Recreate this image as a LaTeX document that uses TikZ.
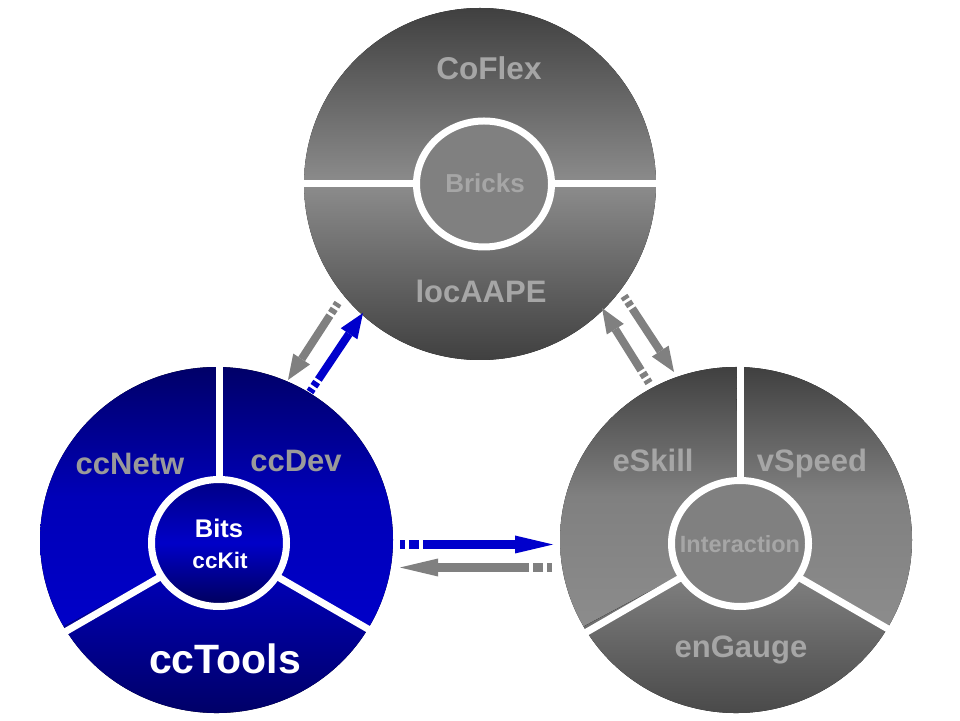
\documentclass[tikz,border=0pt]{standalone}
\usepackage{fontspec}
\setmainfont{Liberation Sans}
\usepackage{tikz}
\usetikzlibrary{arrows.meta, positioning, calc}

\definecolor{grayDark}{HTML}{404040}
\definecolor{grayLight}{HTML}{8C8C8C}
\definecolor{grayCore}{HTML}{808080}
\definecolor{grayText}{HTML}{A6A6A6}
\definecolor{blueDark}{HTML}{000068}
\definecolor{blueLight}{HTML}{0000C8}
\definecolor{blueDeep}{HTML}{00005A}
\definecolor{blueText}{HTML}{9A9A9A}
\definecolor{arrowBlue}{HTML}{0000CC}
\definecolor{arrowGray}{HTML}{808080}

\tikzset{
  seglabel/.style={font=\bfseries\fontsize{31}{31}\selectfont, text=grayText, anchor=base, inner sep=0pt},
  corelabel/.style={font=\bfseries\fontsize{24}{24}\selectfont, text=grayText, anchor=base, inner sep=0pt},
  divider/.style={white, line width=7pt},
  flow/.style={line width=9pt, dash pattern=on 5pt off 4pt on 10pt off 4pt on 400pt,
    -{Triangle[length=38pt, width=18pt, line width=0pt]}},
  flowdiag/.style={line width=8pt, dash pattern=on 4pt off 3pt on 5pt off 3pt on 400pt,
    -{Triangle[length=25pt, width=20pt, line width=0pt]}},
}

\begin{document}
\begin{tikzpicture}[x=1pt, y=1pt]

\useasboundingbox (0,0) rectangle (960,720);

% Centres
\coordinate (top) at (480,536);
\coordinate (left) at (216.5,180);
\coordinate (right) at (736,180);

% Top circle
\begin{scope}[shift={(top)}]
  \fill[top color=grayDark, bottom color=grayLight] (180:176) arc[start angle=180, end angle=0, radius=176] -- cycle;
  \fill[top color=grayLight, bottom color=grayDark] (180:176) arc[start angle=180, end angle=360, radius=176] -- cycle;
  \draw[divider] (-178,0) -- (178,0);
  \draw[divider, fill=grayCore] (4,0) ellipse[x radius=67.5, y radius=63];
\end{scope}

% Left circle
\begin{scope}[shift={(left)}]
  \coordinate (lc) at (2.5,-3);
  \fill[top color=blueDark, bottom color=blueLight, middle color=blueLight!92!black] (lc) -- (90:176.5 and 173)
    arc[start angle=90, end angle=210, x radius=176.5, y radius=173] -- cycle;
  \fill[top color=blueDark, bottom color=blueLight, middle color=blueLight!92!black] (lc) -- (90:176.5 and 173)
    arc[start angle=90, end angle=-30, x radius=176.5, y radius=173] -- cycle;
  \fill[top color=blueLight, bottom color=blueDeep] (lc) -- (210:176.5 and 173)
    arc[start angle=210, end angle=330, x radius=176.5, y radius=173] -- cycle;
  \foreach \a in {90,210,330}
    \draw[divider] (lc) -- ++(\a:178);
  \draw[divider, top color=blueDark!70!blueLight, bottom color=blueDeep, middle color=blueLight]
    (lc) ellipse[x radius=67.5, y radius=63.5];
\end{scope}

% Right circle
\begin{scope}[shift={(right)}]
  \coordinate (rc) at (4,-3.5);
  \fill[top color=grayDark, bottom color=grayLight, middle color=grayCore] (rc) -- (90:176 and 173)
    arc[start angle=90, end angle=210, x radius=176, y radius=173] -- cycle;
  \fill[top color=grayDark, bottom color=grayLight, middle color=grayCore] (rc) -- (90:176 and 173)
    arc[start angle=90, end angle=-30, x radius=176, y radius=173] -- cycle;
  \fill[top color=grayLight, bottom color=grayDark] (rc) -- (210:176 and 173)
    arc[start angle=210, end angle=330, x radius=176, y radius=173] -- cycle;
  \foreach \a in {90,210,330}
    \draw[divider] (rc) -- ++(\a:178);
  \draw[divider, fill=grayCore] (rc) ellipse[x radius=68.5, y radius=63];
\end{scope}

% Labels, top
\node[seglabel, font=\bfseries\fontsize{31.5}{31.5}\selectfont] (coflex) at (489,640) {CoFlex};
\node[corelabel, font=\bfseries\fontsize{26}{26}\selectfont] (bricks) at (485,527) {Bricks};
\node[seglabel] (locaape) at (481,417) {locAAPE};

% Labels, left
\node[seglabel, text=blueText] (ccnetw) at (130,245) {ccNetw};
\node[seglabel, text=blueText] (ccdev) at (296,248) {ccDev};
\node[corelabel, text=white, font=\bfseries\fontsize{25.5}{25.5}\selectfont] (bits) at (219,182) {Bits};
\node[corelabel, text=white, font=\bfseries\fontsize{22.5}{22.5}\selectfont] (cckit) at (220,152) {ccKit};
\node[seglabel, text=white, font=\bfseries\fontsize{41}{41}\selectfont] (cctools) at (225,47) {ccTools};

% Labels, right
\node[seglabel] (eskill) at (653,248) {eSkill};
\node[seglabel] (vspeed) at (812,248) {vSpeed};
\node[corelabel, font=\bfseries\fontsize{23.5}{23.5}\selectfont] (interaction) at (740,167) {Interaction};
\node[seglabel] (engauge) at (741,63) {enGauge};

% Arrow ends
\coordinate (lr-tail) at (400,175.5);
\coordinate (lr-tip) at (553,175.5);
\coordinate (rl-tail) at (552,152.5);
\coordinate (rl-tip) at (400,152.5);
\coordinate (lt-tail) at (310,328);
\coordinate (lt-tip) at (363,407);
\coordinate (tl-tail) at (338,417);
\coordinate (tl-tip) at (288,340);
\coordinate (rt-tail) at (649,337);
\coordinate (rt-tip) at (602,412);
\coordinate (tr-tail) at (624,424);
\coordinate (tr-tip) at (674,348);

% Arrows
\draw[flow, arrowBlue] (lr-tail) -- (lr-tip);
\draw[flow, arrowGray] (rl-tail) -- (rl-tip);
\draw[flowdiag, arrowBlue] (lt-tail) -- (lt-tip);
\draw[flowdiag, arrowGray] (tl-tail) -- (tl-tip);
\draw[flowdiag, arrowGray] (rt-tail) -- (rt-tip);
\draw[flowdiag, arrowGray] (tr-tail) -- (tr-tip);

\end{tikzpicture}
\end{document}
